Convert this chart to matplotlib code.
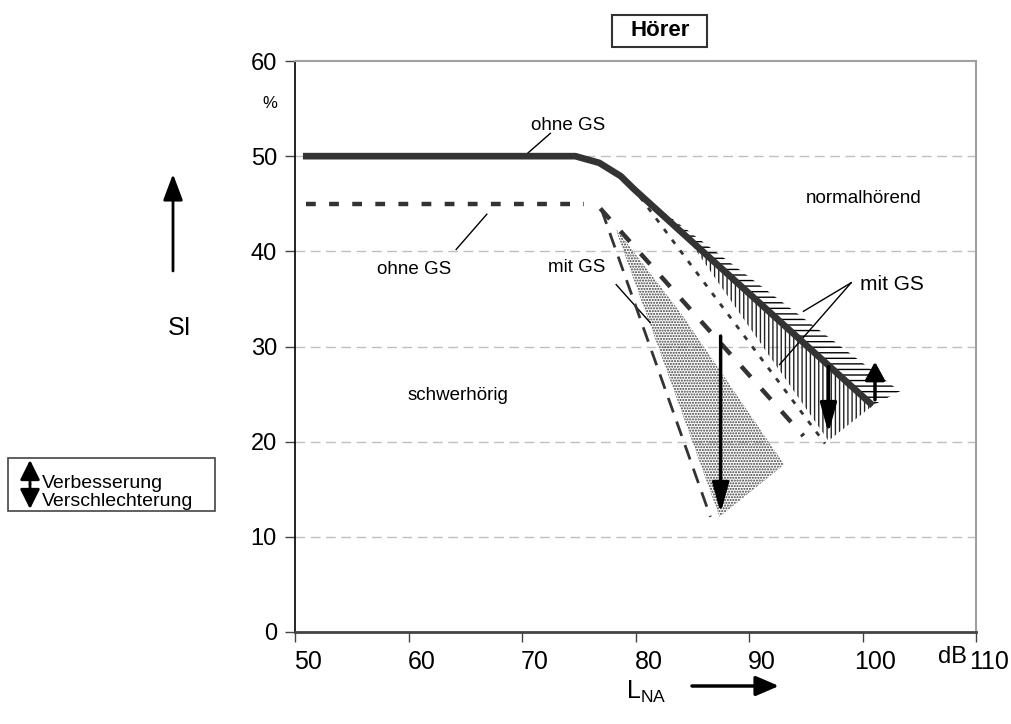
import matplotlib
matplotlib.use("Agg")
import matplotlib.pyplot as plt
from matplotlib.patches import Polygon, Rectangle, FancyArrowPatch
import matplotlib.transforms as mtransforms

plt.rcParams['font.family'] = ['Liberation Sans', 'DejaVu Sans']
plt.rcParams['hatch.linewidth'] = 1.0
plt.rcParams['mathtext.fontset'] = 'custom'
plt.rcParams['mathtext.rm'] = 'Liberation Sans Narrow'

# ---- data (L_NA in dB, SI in %) ----
x_ticks = [50, 60, 70, 80, 90, 100, 110]
y_ticks = [0, 10, 20, 30, 40, 50, 60]

# normal hearing, without hearing protection
normal_ohne_x = [50.7, 74.7, 76.8, 78.7, 79.9, 100.9]
normal_ohne_y = [50.0, 50.0, 49.3, 47.9, 46.5, 23.8]

# normal hearing, with hearing protection (lower bound)
normal_mit_x = [80.4, 96.7]
normal_mit_y = [45.7, 19.8]

# hearing impaired, without hearing protection
schwer_ohne_x = [51.0, 75.5]
schwer_ohne_y = [45.0, 45.0]
schwer_ohne_fall_x = [76.9, 94.8]
schwer_ohne_fall_y = [44.5, 20.6]

# hearing impaired, with hearing protection (steep bound)
schwer_mit_x = [77.0, 86.6]
schwer_mit_y = [44.4, 12.1]

# shaded ranges
impr_x = [80.5, 100.9, 103.3]          # improvement above the solid curve
impr_y = [45.9, 23.8, 25.3]
worse_x = [84.5, 100.9, 97.0]          # deterioration, normal hearing
worse_y = [41.5, 23.8, 20.1]
stip_x = [78.2, 84.0, 93.1, 87.4]      # deterioration, hearing impaired
stip_y = [42.5, 33.5, 17.6, 12.1]

# change arrows: x, start, end
arrow_big = (87.5, 31.1, 12.5)
arrow_down = (97.0, 27.9, 20.9)
arrow_up = (101.1, 24.4, 28.4)

W, H = 1011, 724
fig = plt.figure(figsize=(W / 100, H / 100), dpi=100)
ax = fig.add_axes([295 / W, 1 - 632 / H, (976 - 295) / W, (632 - 61) / H])
ax.set_xlim(50, 110)
ax.set_ylim(0, 60)

dark = '#333333'
narrow = ['Liberation Sans Narrow', 'Liberation Sans']

# grid
for yv in y_ticks[1:-1]:
    ax.axhline(yv, color='#c0c0c0', lw=1.0, dashes=(7, 4), zorder=0)

# spines
ax.spines['left'].set_color('black')
ax.spines['left'].set_linewidth(1.2)
ax.spines['bottom'].set_color('#444444')
ax.spines['bottom'].set_linewidth(2.0)
ax.spines['top'].set_color('#a0a0a0')
ax.spines['top'].set_linewidth(1.5)
ax.spines['right'].set_color('#a0a0a0')
ax.spines['right'].set_linewidth(1.5)

ax.set_xticks(x_ticks)
ax.set_yticks(y_ticks)
ax.set_xticklabels([str(v) for v in x_ticks], fontsize=18, family=narrow)
ax.set_yticklabels([str(v) for v in y_ticks], fontsize=17)
ax.tick_params(axis='both', direction='out', length=7, width=1.0, color='#444444')
ax.tick_params(axis='x', pad=6)
ax.tick_params(axis='y', pad=6)
offset = mtransforms.ScaledTranslation(13 / 100, 0, fig.dpi_scale_trans)
for lab in ax.get_xticklabels():
    lab.set_transform(lab.get_transform() + offset)

# shaded regions
ax.add_patch(Polygon(list(zip(impr_x, impr_y)), closed=True, facecolor='none',
                     edgecolor='black', lw=0, hatch='---', zorder=1))
ax.add_patch(Polygon(list(zip(worse_x, worse_y)), closed=True, facecolor='none',
                     edgecolor='#222222', lw=0, hatch='||||', zorder=1))
ax.add_patch(Polygon(list(zip(stip_x, stip_y)), closed=True, facecolor='none',
                     edgecolor='#3a3a3a', lw=0, hatch='......', zorder=1))

# curves
ax.plot(normal_ohne_x, normal_ohne_y, color=dark, lw=4.8, solid_capstyle='butt', zorder=4)
ax.plot(schwer_ohne_x, schwer_ohne_y, color=dark, lw=3.2, dashes=(2.2, 3.0), zorder=3)
ax.plot(schwer_ohne_fall_x, schwer_ohne_fall_y, color=dark, lw=3.2, dashes=(3.2, 3.6), zorder=3)
ax.plot(schwer_mit_x, schwer_mit_y, color=dark, lw=2.0, dashes=(5.5, 3.5), zorder=3)
ax.plot(normal_mit_x, normal_mit_y, color=dark, lw=2.0, dashes=(1.8, 3.0), zorder=3)

# arrows
def vert_arrow(a, hl, hw):
    xv, y0, y1 = a
    ax.annotate('', xy=(xv, y1), xytext=(xv, y0),
                arrowprops=dict(arrowstyle=f'-|>,head_length={hl},head_width={hw}',
                                color='black', lw=2.5, shrinkA=0, shrinkB=0,
                                mutation_scale=20), zorder=5)

vert_arrow(arrow_big, 0.9, 0.25)
vert_arrow(arrow_down, 0.9, 0.25)
vert_arrow(arrow_up, 0.55, 0.3)

# labels and leaders
fs = 13.5
ax.text(74.1, 53.2, 'ohne GS', fontsize=fs, ha='center', va='center')
ax.plot([70.3, 72.5], [50.1, 52.4], color='black', lw=1.0)
ax.text(60.5, 38.1, 'ohne GS', fontsize=fs, ha='center', va='center')
ax.plot([64.2, 66.9], [40.2, 43.9], color='black', lw=1.0)
ax.text(74.8, 38.3, 'mit GS', fontsize=fs, ha='center', va='center')
ax.plot([78.3, 81.3], [36.5, 32.5], color='black', lw=1.0)
ax.text(100.1, 45.5, 'normalhörend', fontsize=fs, ha='center', va='center')
ax.text(102.6, 36.5, 'mit GS', fontsize=fs + 1.5, ha='center', va='center')
ax.plot([99.0, 94.8], [36.7, 33.7], color='black', lw=1.0)
ax.plot([99.0, 92.7], [36.7, 28.1], color='black', lw=1.0)
ax.text(64.4, 24.9, 'schwerhörig', fontsize=fs, ha='center', va='center')

# figure-level annotations (pixel coordinates from the top-left)
def fx(px):
    return px / W

def fy(py):
    return 1 - py / H

def fig_arrow(p0, p1, hl, hw, lw):
    fig.add_artist(FancyArrowPatch(
        (fx(p0[0]), fy(p0[1])), (fx(p1[0]), fy(p1[1])), transform=fig.transFigure,
        arrowstyle=f'-|>,head_length={hl},head_width={hw}', mutation_scale=20,
        color='black', lw=lw, shrinkA=0, shrinkB=0))

fig.text(fx(270), fy(103), '%', fontsize=12, ha='center', va='center')
fig.text(fx(180), fy(328), 'SI', fontsize=18, ha='center', va='center')
fig_arrow((173, 271), (173, 174), 0.8, 0.3, 2.0)

fig.text(fx(952), fy(657), 'dB', fontsize=17, ha='center', va='center', family=narrow)
fig.text(fx(646), fy(692), r'L$_{\mathregular{NA}}$', fontsize=18, ha='center', va='center',
         family=narrow)
fig_arrow((692, 686), (779, 686), 0.7, 0.3, 2.5)

# title box
fig.add_artist(Rectangle((fx(612), fy(47)), fx(707) - fx(612), fy(15) - fy(47),
                         transform=fig.transFigure, facecolor='white',
                         edgecolor='#333333', lw=1.5))
fig.text(fx(660), fy(31), 'Hörer', fontsize=16, fontweight='bold',
         ha='center', va='center')

# legend box
fig.add_artist(Rectangle((fx(8), fy(511)), fx(215) - fx(8), fy(458) - fy(511),
                         transform=fig.transFigure, facecolor='white',
                         edgecolor='#444444', lw=1.2))
fig_arrow((30, 484), (30, 460), 0.6, 0.3, 2.0)
fig_arrow((30, 484), (30, 509), 0.6, 0.3, 2.0)
fig.text(fx(42), fy(483), 'Verbesserung', fontsize=14, ha='left', va='center')
fig.text(fx(42), fy(501), 'Verschlechterung', fontsize=14, ha='left', va='center')

fig.savefig('out.png', dpi=100)
